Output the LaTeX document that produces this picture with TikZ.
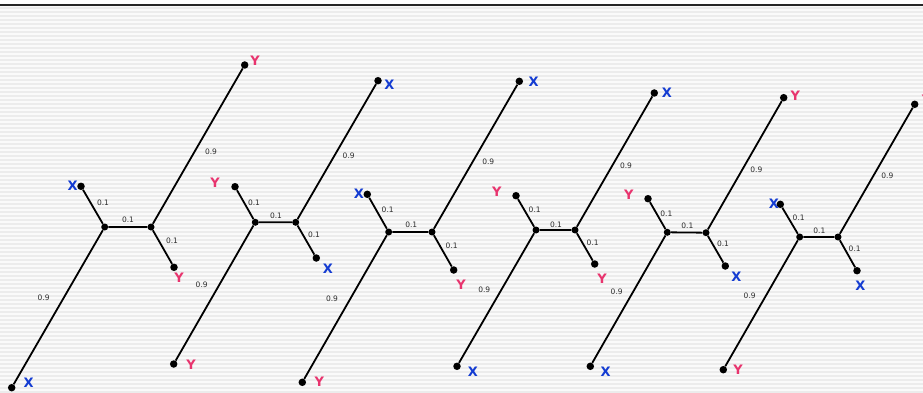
\documentclass[tikz,border=0pt]{standalone}
\usepackage{fontspec}
\setmainfont{DejaVu Sans}
\definecolor{xblue}{RGB}{20,60,210}
\definecolor{ypink}{RGB}{232,52,110}
\definecolor{stripe}{RGB}{236,236,236}
\definecolor{bgc}{RGB}{250,250,250}
\definecolor{wtxt}{RGB}{45,45,45}
\tikzset{
  dot/.style={circle,fill=black,inner sep=0pt,minimum size=7.5pt},
  inner/.style={circle,fill=black,inner sep=0pt,minimum size=7pt},
  edge/.style={line width=1.8pt,black},
  xl/.style={text=xblue,font=\fontsize{13}{13}\selectfont\bfseries,inner sep=0pt},
  yl/.style={text=ypink,font=\fontsize{13}{13}\selectfont\bfseries,inner sep=0pt},
  wl/.style={text=wtxt,font=\fontsize{7.5}{7.5}\selectfont,inner sep=0pt}
}
\begin{document}
\begin{tikzpicture}[x=1pt,y=-1pt]
\useasboundingbox (0,0) rectangle (923,393);
\clip (0,0) rectangle (923,393);
\fill[white] (0,0) rectangle (923,393);
\fill[bgc] (0,6) rectangle (923,393);
\foreach \s in {7,11,...,391} \fill[stripe] (0,\s) rectangle (923,\s+2);
\draw[line width=1.2pt,color=black!85] (0,5) -- (923,5);

% Tree 1
\node[inner] (aL) at (104.7,227) {};
\node[inner] (aR) at (151,227) {};
\node[dot] (aTL) at (81,186.3) {};
\node[dot] (aBR) at (174,267.3) {};
\node[dot] (aBL) at (11.7,387.7) {};
\node[dot] (aTR) at (244.7,65) {};
\draw[edge] (aL) -- (aR) (aL) -- (aTL) (aL) -- (aBL) (aR) -- (aBR) (aR) -- (aTR);
\node[xl] (aTLl) at (72.7,186) {X};
\node[yl] (aBRl) at (179,278) {Y};
\node[xl] (aBLl) at (28.7,383) {X};
\node[yl] (aTRl) at (255,61) {Y};
\node[wl] (aw1) at (103,203) {0.1};
\node[wl] (aw2) at (128,220) {0.1};
\node[wl] (aw3) at (172,241) {0.1};
\node[wl] (aw4) at (211,152) {0.9};
\node[wl] (aw5) at (43.7,297.7) {0.9};

% Tree 2
\node[inner] (bL) at (255.3,222.3) {};
\node[inner] (bR) at (295.7,222.3) {};
\node[dot] (bTL) at (235,186.7) {};
\node[dot] (bBR) at (316.3,258) {};
\node[dot] (bBL) at (173.7,364) {};
\node[dot] (bTR) at (378,80.7) {};
\draw[edge] (bL) -- (bR) (bL) -- (bTL) (bL) -- (bBL) (bR) -- (bBR) (bR) -- (bTR);
\node[yl] (bTLl) at (215,182.7) {Y};
\node[xl] (bBRl) at (328,268.3) {X};
\node[yl] (bBLl) at (191,364.7) {Y};
\node[xl] (bTRl) at (389.3,84.3) {X};
\node[wl] (bw1) at (254,202.3) {0.1};
\node[wl] (bw2) at (276,215.7) {0.1};
\node[wl] (bw3) at (314,235) {0.1};
\node[wl] (bw4) at (348.7,156) {0.9};
\node[wl] (bw5) at (201.7,285) {0.9};

% Tree 3
\node[inner] (cL) at (388.7,232) {};
\node[inner] (cR) at (432,232) {};
\node[dot] (cTL) at (367.3,194.3) {};
\node[dot] (cBR) at (453.7,270) {};
\node[dot] (cBL) at (302.3,382.3) {};
\node[dot] (cTR) at (519.3,81.3) {};
\draw[edge] (cL) -- (cR) (cL) -- (cTL) (cL) -- (cBL) (cR) -- (cBR) (cR) -- (cTR);
\node[xl] (cTLl) at (359,193.7) {X};
\node[yl] (cBRl) at (461,285) {Y};
\node[yl] (cBLl) at (319.3,381.3) {Y};
\node[xl] (cTRl) at (533.7,81.3) {X};
\node[wl] (cw1) at (387.7,210) {0.1};
\node[wl] (cw2) at (411.3,224.7) {0.1};
\node[wl] (cw3) at (451.7,245.7) {0.1};
\node[wl] (cw4) at (488.3,162) {0.9};
\node[wl] (cw5) at (332,298.7) {0.9};

% Tree 4
\node[inner] (dL) at (536,230) {};
\node[inner] (dR) at (575,230) {};
\node[dot] (dTL) at (516,195.7) {};
\node[dot] (dBR) at (594.7,264) {};
\node[dot] (dBL) at (457,366.3) {};
\node[dot] (dTR) at (654.3,93) {};
\draw[edge] (dL) -- (dR) (dL) -- (dTL) (dL) -- (dBL) (dR) -- (dBR) (dR) -- (dTR);
\node[yl] (dTLl) at (496.7,192) {Y};
\node[yl] (dBRl) at (602,278.3) {Y};
\node[xl] (dBLl) at (473,371.3) {X};
\node[xl] (dTRl) at (667,92.7) {X};
\node[wl] (dw1) at (534.7,210) {0.1};
\node[wl] (dw2) at (556,224.3) {0.1};
\node[wl] (dw3) at (592.7,242.3) {0.1};
\node[wl] (dw4) at (626,166) {0.9};
\node[wl] (dw5) at (484.3,290) {0.9};

% Tree 5
\node[inner] (eL) at (667.3,232.3) {};
\node[inner] (eR) at (706,232.7) {};
\node[dot] (eTL) at (648,198.7) {};
\node[dot] (eBR) at (725.3,266) {};
\node[dot] (eBL) at (590.3,366.3) {};
\node[dot] (eTR) at (783.7,97.7) {};
\draw[edge] (eL) -- (eR) (eL) -- (eTL) (eL) -- (eBL) (eR) -- (eBR) (eR) -- (eTR);
\node[yl] (eTLl) at (628.7,195) {Y};
\node[xl] (eBRl) at (736.3,276.7) {X};
\node[xl] (eBLl) at (605.7,371.7) {X};
\node[yl] (eTRl) at (795.3,95.7) {Y};
\node[wl] (ew1) at (666.3,213.3) {0.1};
\node[wl] (ew2) at (687.3,225.7) {0.1};
\node[wl] (ew3) at (723,244) {0.1};
\node[wl] (ew4) at (756.3,169.3) {0.9};
\node[wl] (ew5) at (616.7,291.7) {0.9};

% Tree 6
\node[inner] (fL) at (799.7,237) {};
\node[inner] (fR) at (838,237) {};
\node[dot] (fTL) at (780.3,204.3) {};
\node[dot] (fBR) at (857,270.7) {};
\node[dot] (fBL) at (723.3,369.7) {};
\node[dot] (fTR) at (914.7,104.3) {};
\draw[edge] (fL) -- (fR) (fL) -- (fTL) (fL) -- (fBL) (fR) -- (fBR) (fR) -- (fTR);
\node[xl] (fTLl) at (774,203.7) {X};
\node[xl] (fBRl) at (860.3,285.7) {X};
\node[yl] (fBLl) at (738,369.3) {Y};
\node[yl] (fTRl) at (926.5,100) {Y};
\node[wl] (fw1) at (798.7,217.7) {0.1};
\node[wl] (fw2) at (819.3,231) {0.1};
\node[wl] (fw3) at (854.7,249) {0.1};
\node[wl] (fw4) at (887.3,175.3) {0.9};
\node[wl] (fw5) at (749.7,296) {0.9};
\end{tikzpicture}
\end{document}
